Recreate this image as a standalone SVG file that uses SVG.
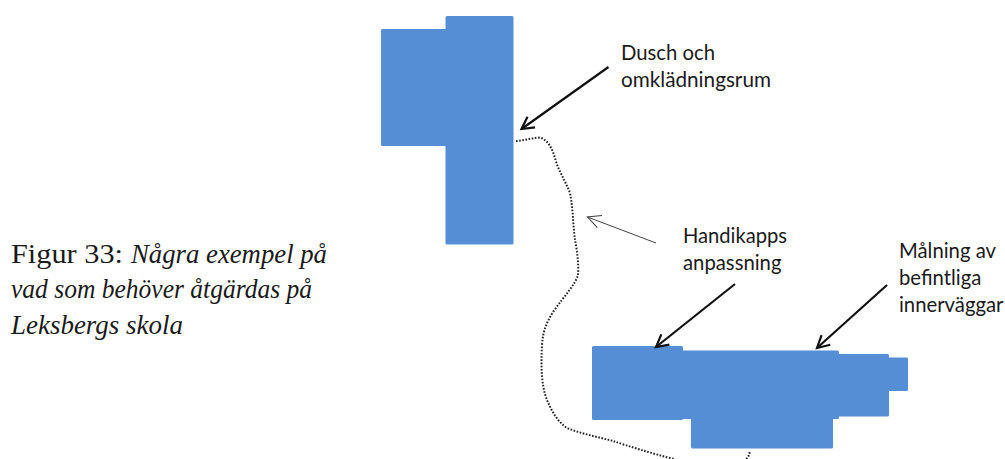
<svg xmlns="http://www.w3.org/2000/svg" width="1005" height="459" viewBox="0 0 1005 459">
<style>
.b{fill:#558ed5}
.l{font-family:Lato,"Open Sans",sans-serif;font-size:20.3px;fill:#1a1a1a}
.c{font-family:"Liberation Serif",serif;font-size:28px;fill:#1a1a1a}
.i{font-style:italic}
.a{fill:none;stroke:#111;stroke-width:2.2;marker-end:url(#h)}
.t{fill:none;stroke:#444;stroke-width:1;marker-end:url(#n)}
.d{fill:none;stroke:#222;stroke-width:2;stroke-dasharray:1.6 1.6}
</style>
<defs>
<marker id="h" markerUnits="userSpaceOnUse" markerWidth="20" markerHeight="20" refX="15" refY="10" orient="auto"><path d="M3 3.500L15 10L3 16.500" fill="none" stroke="#111" stroke-width="2.2"/></marker>
<marker id="n" markerUnits="userSpaceOnUse" markerWidth="20" markerHeight="20" refX="15" refY="10" orient="auto"><path d="M2 3.500L15 10L2 16.500" fill="none" stroke="#444" stroke-width="1.1"/></marker>
</defs>
<rect width="1005" height="459" fill="#fff"/>
<g id="building-north">
<rect class="b" x="381" y="29" width="70" height="117" rx="1.5"/>
<rect class="b" x="445.500" y="16" width="68" height="228.500" rx="1.500"/>
</g>
<g id="building-south">
<rect class="b" x="691" y="410" width="142" height="38.500" rx="1.500"/>
<rect class="b" x="592" y="346" width="91" height="74" rx="1.500"/>
<rect class="b" x="680" y="350.500" width="159" height="68.500" rx="1.500"/>
<rect class="b" x="835" y="354" width="54" height="62.500" rx="1.500"/>
<rect class="b" x="885" y="357.500" width="23" height="33.500" rx="1.500"/>
</g>
<g id="connectors">
<path class="d" d="M516 141C523 141 530 138 540 137.500C548 140 552 148 555 158C558 170 565 180 570 193C573 208 573 225 575 240C577 250 579 265 578 275C575 285 565 295 553 312C547 322 543 330 542 345C541 365 541 385 547 400C552 412 558 422 567 428C582 434 598 437 613 441C628 446 650 453 674 459"/>
<path class="d" d="M749.500 452C749.500 455 748 457 746.500 459"/>
<path class="a" d="M608.500 67L521.500 129"/>
<path class="t" d="M656 243L587.500 217"/>
<path class="a" d="M735 284L656 347"/>
<path class="a" d="M887 285L817 348"/>
</g>
<g id="label-dusch"><text class="l"><tspan x="621" y="60">Dusch och</tspan><tspan x="621" y="87" textLength="150" lengthAdjust="spacingAndGlyphs">omklädningsrum</tspan></text></g>
<g id="label-handikapp"><text class="l"><tspan x="683" y="243" textLength="104" lengthAdjust="spacingAndGlyphs">Handikapps</tspan><tspan x="683" y="270">anpassning</tspan></text></g>
<g id="label-malning"><text class="l"><tspan x="899" y="258">Målning av</tspan><tspan x="899" y="285">befintliga</tspan><tspan x="899" y="312">innerväggar</tspan></text></g>
<g id="caption"><text class="c" x="11" y="263" textLength="112" lengthAdjust="spacingAndGlyphs">Figur 33:</text><text class="c i" x="131" y="263" textLength="196" lengthAdjust="spacingAndGlyphs">Några exempel på</text><text class="c i" x="11" y="298" textLength="301" lengthAdjust="spacingAndGlyphs">vad som behöver åtgärdas på</text><text class="c i" x="11" y="334" textLength="172" lengthAdjust="spacingAndGlyphs">Leksbergs skola</text></g>
</svg>
